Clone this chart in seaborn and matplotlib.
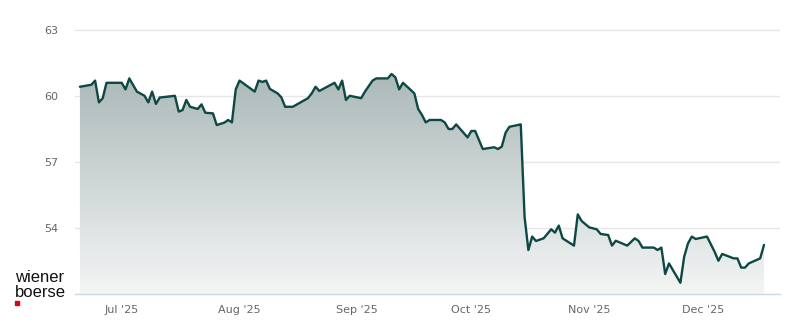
import numpy as np
import pandas as pd
import matplotlib
matplotlib.use("Agg")
import matplotlib.pyplot as plt
import matplotlib.dates as mdates
from matplotlib.colors import LinearSegmentedColormap
from matplotlib.patches import Rectangle
import seaborn as sns

dates = ["2025-06-20", "2025-06-23", "2025-06-24", "2025-06-25", "2025-06-26", "2025-06-27",
         "2025-07-01", "2025-07-02", "2025-07-03", "2025-07-05", "2025-07-07", "2025-07-08",
         "2025-07-09", "2025-07-10", "2025-07-11", "2025-07-15", "2025-07-16", "2025-07-17",
         "2025-07-18", "2025-07-19", "2025-07-21", "2025-07-22", "2025-07-23", "2025-07-25",
         "2025-07-26", "2025-07-28", "2025-07-29", "2025-07-30", "2025-07-31", "2025-08-01",
         "2025-08-05", "2025-08-06", "2025-08-07", "2025-08-08", "2025-08-09", "2025-08-11",
         "2025-08-12", "2025-08-13", "2025-08-15", "2025-08-19", "2025-08-20", "2025-08-21",
         "2025-08-22", "2025-08-26", "2025-08-27", "2025-08-28", "2025-08-29", "2025-08-30",
         "2025-09-02", "2025-09-03", "2025-09-05", "2025-09-06", "2025-09-09", "2025-09-10",
         "2025-09-11", "2025-09-12", "2025-09-13", "2025-09-16", "2025-09-17", "2025-09-18",
         "2025-09-19", "2025-09-20", "2025-09-23", "2025-09-24", "2025-09-25", "2025-09-26",
         "2025-09-27", "2025-09-30", "2025-10-01", "2025-10-02", "2025-10-04", "2025-10-07",
         "2025-10-08", "2025-10-09", "2025-10-10", "2025-10-11", "2025-10-14", "2025-10-15",
         "2025-10-16", "2025-10-17", "2025-10-18", "2025-10-20", "2025-10-22", "2025-10-23",
         "2025-10-24", "2025-10-25", "2025-10-28", "2025-10-29", "2025-10-30", "2025-11-01",
         "2025-11-03", "2025-11-04", "2025-11-06", "2025-11-07", "2025-11-08", "2025-11-11",
         "2025-11-13", "2025-11-14", "2025-11-15", "2025-11-18", "2025-11-19", "2025-11-20",
         "2025-11-21", "2025-11-22", "2025-11-25", "2025-11-26", "2025-11-27", "2025-11-28",
         "2025-11-29", "2025-12-02", "2025-12-04", "2025-12-05", "2025-12-06", "2025-12-09",
         "2025-12-10", "2025-12-11", "2025-12-12", "2025-12-13", "2025-12-16", "2025-12-17"]

prices = [60.42, 60.51, 60.70, 59.71, 59.90, 60.60,
          60.60, 60.30, 60.80, 60.20, 60.01, 59.71,
          60.20, 59.64, 59.93, 60.01, 59.29, 59.36,
          59.82, 59.51, 59.41, 59.62, 59.24, 59.21,
          58.68, 58.79, 58.91, 58.80, 60.30, 60.70,
          60.20, 60.70, 60.64, 60.70, 60.32, 60.12,
          59.94, 59.51, 59.51, 59.90, 60.12, 60.42,
          60.23, 60.60, 60.30, 60.70, 59.82, 60.01,
          59.90, 60.20, 60.70, 60.80, 60.80, 61.00,
          60.85, 60.30, 60.60, 60.12, 59.41, 59.14,
          58.80, 58.91, 58.91, 58.80, 58.50, 58.50,
          58.71, 58.12, 58.41, 58.41, 57.59, 57.67,
          57.59, 57.70, 58.33, 58.60, 58.71, 54.51,
          53.00, 53.61, 53.41, 53.53, 53.94, 53.79,
          54.11, 53.53, 53.20, 54.62, 54.32, 54.03,
          53.94, 53.73, 53.68, 53.20, 53.42, 53.20,
          53.53, 53.41, 53.11, 53.11, 53.00, 53.11,
          51.91, 52.39, 51.51, 52.70, 53.30, 53.61,
          53.50, 53.61, 52.92, 52.51, 52.82, 52.62,
          52.62, 52.20, 52.20, 52.39, 52.62, 53.23]

y_ticks = [54, 57, 60, 63]
x_tick_dates = ["2025-07-01", "2025-08-01", "2025-09-01", "2025-10-01", "2025-11-01", "2025-12-01"]
x_tick_labels = ["Jul '25", "Aug '25", "Sep '25", "Oct '25", "Nov '25", "Dec '25"]

df = pd.DataFrame({"date": pd.to_datetime(dates), "price": prices})

sns.set_theme(style="white")
plt.rcParams["font.family"] = ["DejaVu Sans"]

W, H = 800, 324
fig = plt.figure(figsize=(8, 3.24), dpi=100)
ax = fig.add_axes([75 / W, 30 / H, (780 - 75) / W, (305 - 30) / H])

ymin, ymax = 51.0, 63.5
xmin = pd.Timestamp("2025-06-18 17:00")
xmax = pd.Timestamp("2025-12-21 05:00")

# gradient fill under the line
line_color = "#0e4845"
cmap = LinearSegmentedColormap.from_list("g", ["#a9b8b7", "#f4f5f5"])
grad = np.linspace(0, 1, 256).reshape(-1, 1)
x0, x1 = mdates.date2num(xmin), mdates.date2num(xmax)
im = ax.imshow(grad, cmap=cmap, aspect="auto", extent=[x0, x1, ymin, 61.2],
               origin="upper", zorder=1)
poly = ax.fill_between(df["date"], df["price"], ymin, color="none", zorder=1)
path = poly.get_paths()[0]
im.set_clip_path(path, transform=ax.transData)

sns.lineplot(data=df, x="date", y="price", ax=ax, color=line_color, linewidth=1.7, zorder=3)

ax.set_xlim(xmin, xmax)
ax.set_ylim(ymin, ymax)
ax.set_yticks(y_ticks)
ax.set_yticklabels([str(t) for t in y_ticks])
ax.set_xticks(pd.to_datetime(x_tick_dates))
ax.set_xticklabels(x_tick_labels)
ax.grid(axis="y", color="#e6e6e6", linewidth=1)
ax.grid(axis="x", visible=False)
ax.set_axisbelow(True)
for s in ["top", "right", "left"]:
    ax.spines[s].set_visible(False)
ax.spines["bottom"].set_color("#ccd6eb")
ax.spines["bottom"].set_linewidth(1)
ax.tick_params(axis="y", length=0, pad=12, labelsize=8, labelcolor="#666666")
ax.tick_params(axis="x", length=6.5, width=1, color="#ccd6eb", pad=1.5, labelsize=8, labelcolor="#666666")
ax.set_xlabel("")
ax.set_ylabel("")

# logo
fig.text(15 / W, 1 - 282 / H, "wiener", fontsize=12, family="Liberation Sans", color="#111111", va="baseline")
fig.text(15 / W, 1 - 297 / H, "boerse", fontsize=12, family="Liberation Sans", color="#111111", va="baseline")
fig.patches.append(Rectangle((15 / W, 1 - 305 / H), 4 / W, 4 / H, transform=fig.transFigure,
                             color="#e2001a", figure=fig))

fig.savefig("out.png", dpi=100)
